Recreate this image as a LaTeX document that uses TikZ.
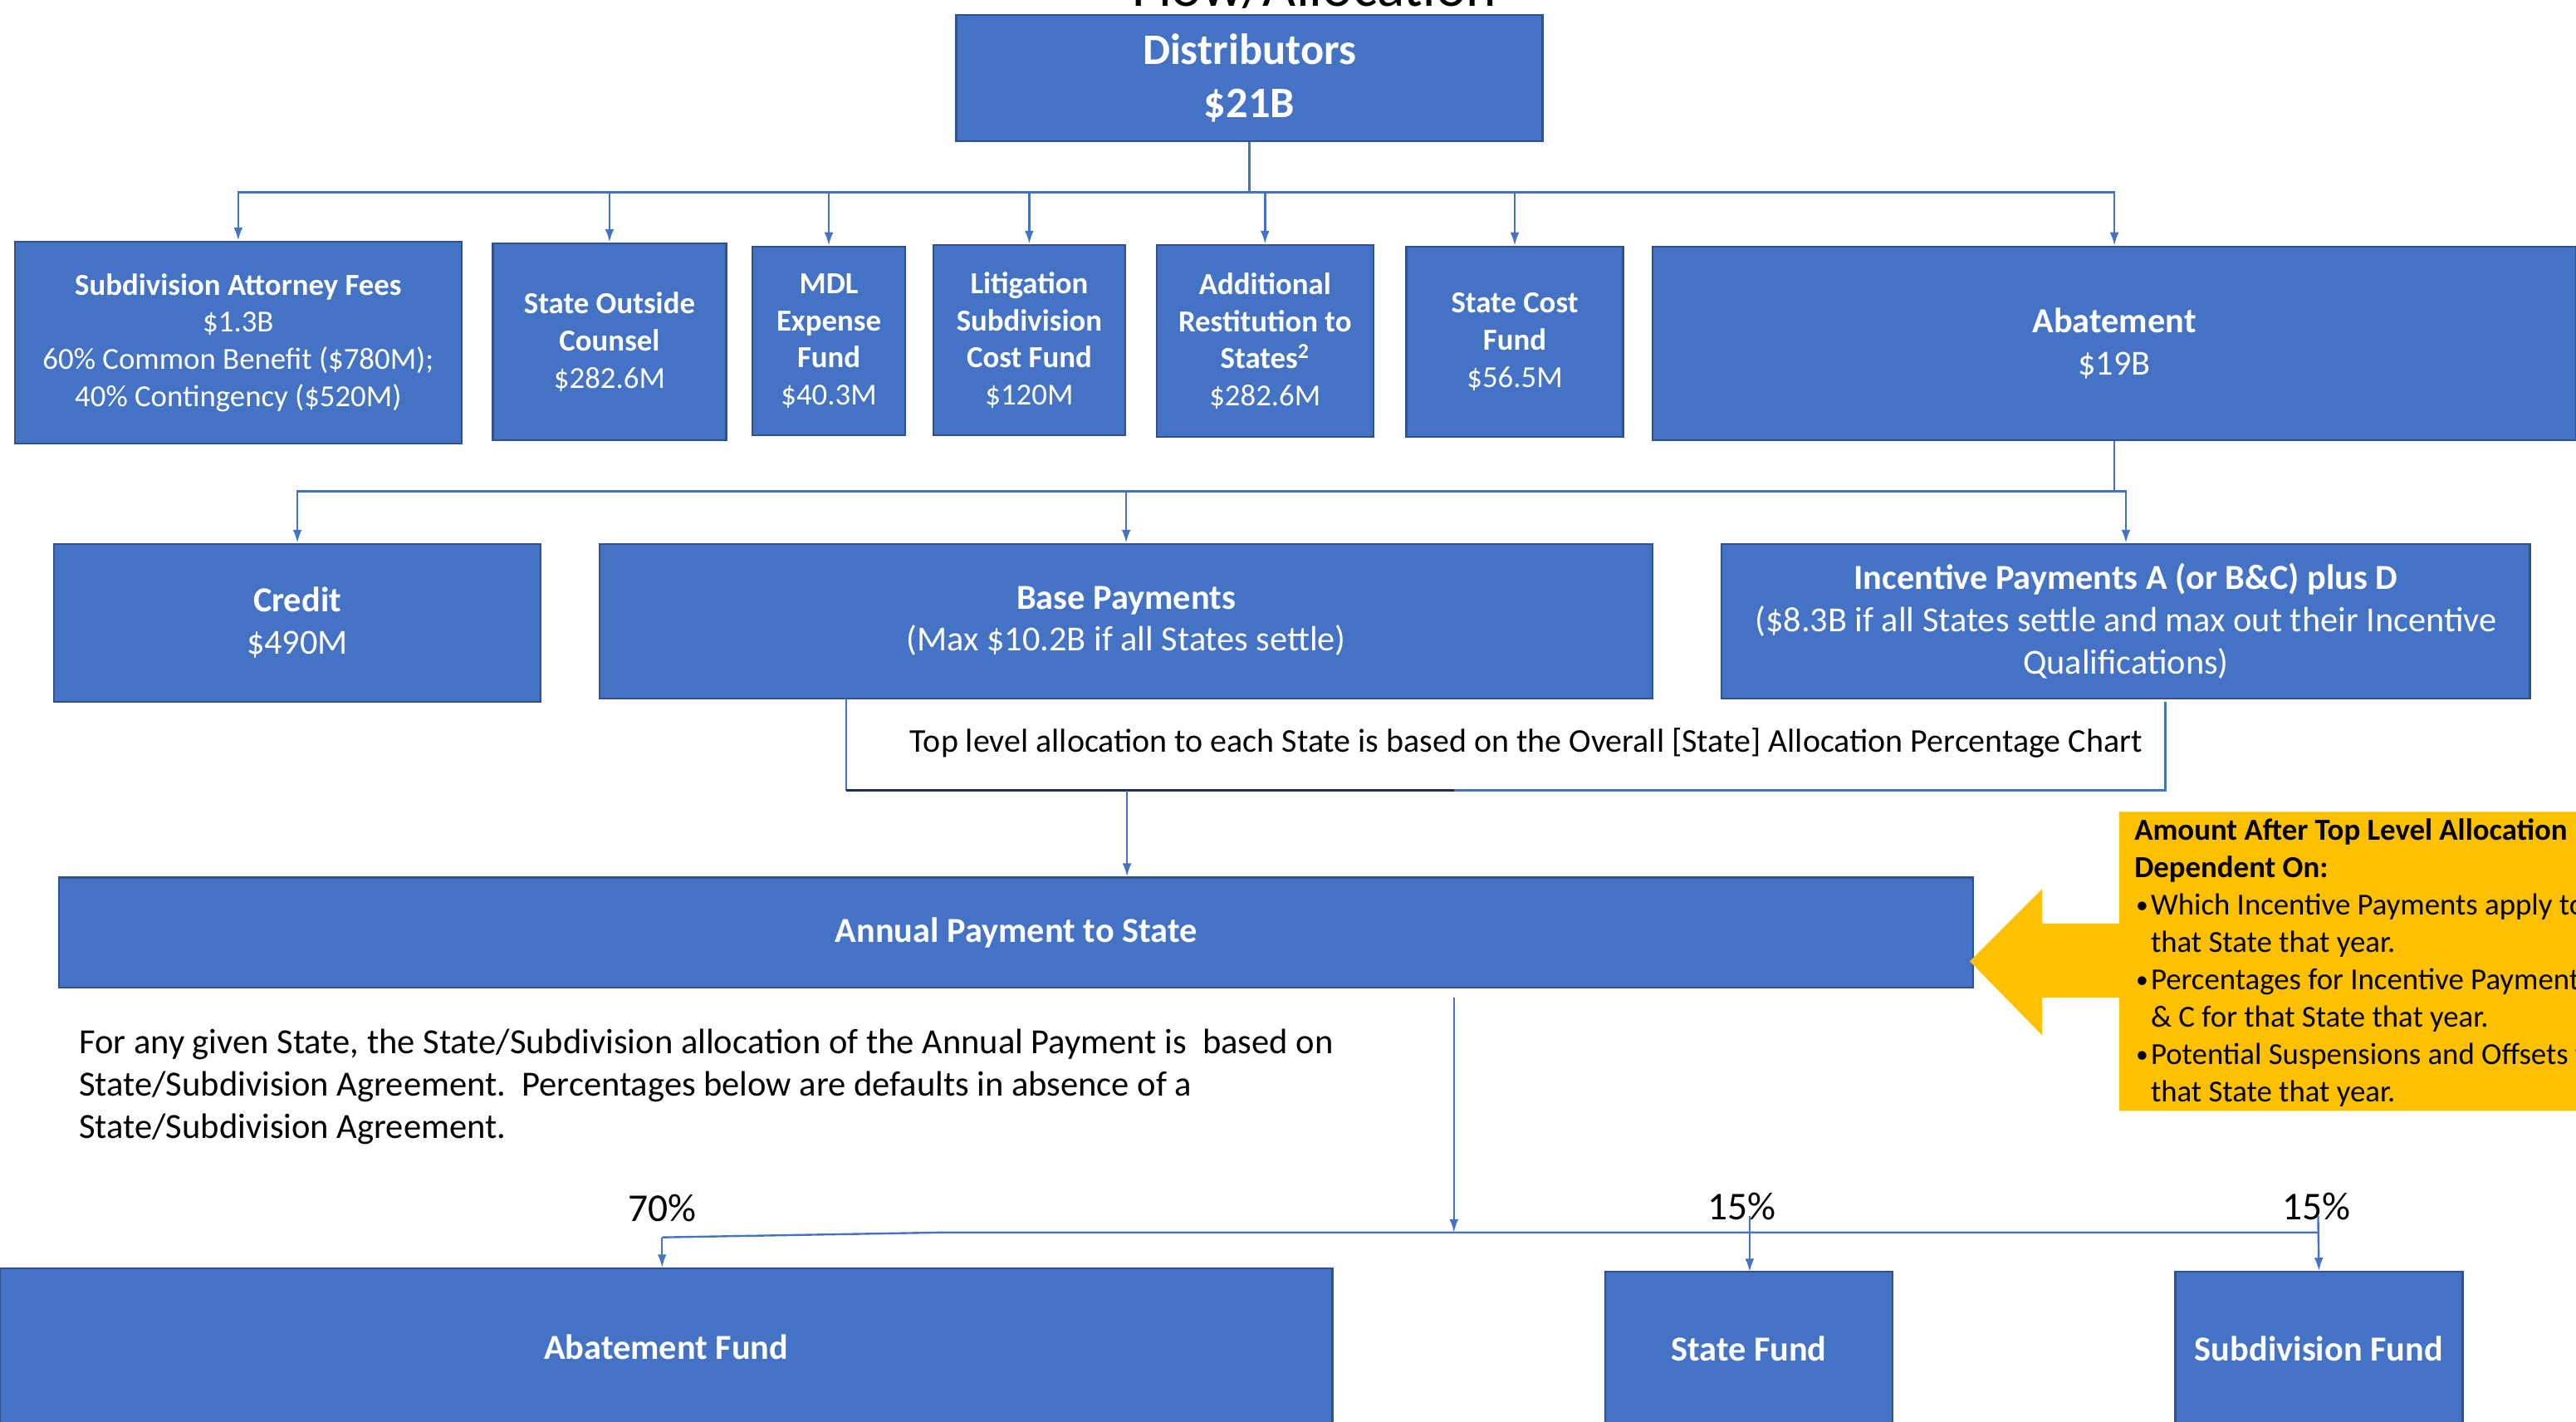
\documentclass[tikz,border=0pt]{standalone}
\usepackage{fontspec}
\setmainfont{Carlito}
\usetikzlibrary{arrows.meta}
\definecolor{boxblue}{RGB}{68,114,196}
\definecolor{boxedge}{RGB}{47,82,143}
\definecolor{callout}{RGB}{255,192,0}
\definecolor{navyline}{RGB}{35,45,70}
\begin{document}
\begin{tikzpicture}[x=1pt,y=-1pt,
  box/.style={fill=boxblue, draw=boxedge, line width=1.2pt, inner sep=0pt, align=center, text=white},
  fs/.style={font=\fontsize{18.6}{22.6}\selectfont},
  fm/.style={font=\fontsize{21.4}{25.6}\selectfont},
  conn/.style={draw=boxblue, line width=1.2pt},
  arr/.style={conn, -{Latex[length=8pt,width=5.5pt]}},
  plain/.style={inner sep=0pt, text=black, font=\fontsize{18.6}{22.6}\selectfont},
  para/.style={inner sep=0pt, text=black, font=\fontsize{21.5}{26}\selectfont},
  pct/.style={inner sep=0pt, text=black, font=\fontsize{24}{28}\selectfont},
]
\useasboundingbox (0,0) rectangle (1568,865);

% title (cut off at top)
\node[inner sep=0pt, anchor=base, font=\fontsize{35}{40}\selectfont] (title) at (800,4) {Flow/Allocation};

% top box
\node[box, minimum width=357pt, minimum height=77pt, font=\fontsize{26.5}{32}\selectfont\bfseries] (dist) at (760.5,47.5) {Distributors\\\$21B};

% row 1
\node[box, fs, minimum width=272pt, minimum height=123pt] (saf) at (145,208.5)
  {\textbf{Subdivision Attorney Fees}\\\$1.3B\\60\% Common Benefit (\$780M);\\40\% Contingency (\$520M)};
\node[box, fs, minimum width=142pt, minimum height=120pt] (soc) at (371,208)
  {\textbf{State Outside}\\\textbf{Counsel}\\\$282.6M};
\node[box, fs, minimum width=93pt, minimum height=115pt] (mdl) at (504.5,207.5)
  {\textbf{MDL}\\\textbf{Expense}\\\textbf{Fund}\\\$40.3M};
\node[box, fs, minimum width=117pt, minimum height=116pt] (lsc) at (626.5,207)
  {\textbf{Litigation}\\\textbf{Subdivision}\\\textbf{Cost Fund}\\\$120M};
\node[box, fs, minimum width=132pt, minimum height=117pt] (ars) at (770,207.5)
  {\textbf{Additional}\\\textbf{Restitution to}\\\textbf{States\textsuperscript{2}}\\\$282.6M};
\node[box, fs, minimum width=132pt, minimum height=116pt] (scf) at (922,208)
  {\textbf{State Cost}\\\textbf{Fund}\\\$56.5M};
\node[box, fm, minimum width=562pt, minimum height=118pt] (abat) at (1287,209)
  {\textbf{Abatement}\\\$19B};

% row 2
\node[box, fm, minimum width=296pt, minimum height=96pt] (credit) at (181,379)
  {\textbf{Credit}\\\$490M};
\node[box, fm, minimum width=641pt, minimum height=94pt] (base) at (685.5,378)
  {\textbf{Base Payments}\\(Max \$10.2B if all States settle)};
\node[box, fm, minimum width=492pt, minimum height=94pt] (inc) at (1294,378)
  {\textbf{Incentive Payments A (or B\&C) plus D}\\(\$8.3B if all States settle and max out their Incentive\\Qualifications)};

% bracket with allocation text
\draw[draw=boxblue, line width=0.9pt] (515,425) -- (515,481);
\draw[draw=boxblue, line width=1.4pt] (885,481) -- (1318,481) -- (1318,427);
\draw[draw=navyline, line width=1.4pt] (515,481) -- (885,481);
\node[inner sep=0pt, text=black, font=\fontsize{20.2}{24}\selectfont] (topalloc) at (929,452) {Top level allocation to each State is based on the Overall [State] Allocation Percentage Chart};

% annual payment
\node[box, fm, minimum width=1165pt, minimum height=67pt] (annual) at (618.5,567.5) {\textbf{Annual Payment to State}};
\coordinate (brk) at (686,481);
\draw[arr] (brk) -- (brk |- annual.north);

% callout
\fill[callout] (1199,585) -- (1243,541) -- (1243,562) -- (1290,562) -- (1290,494) -- (1575,494)
  -- (1575,676) -- (1290,676) -- (1290,607) -- (1243,607) -- (1243,630) -- cycle;
\node[plain, anchor=base west] (c1) at (1299,511.5) {\textbf{Amount After Top Level Allocation}};
\node[plain, anchor=base west] (c2) at (1299,534.2) {\textbf{Dependent On:}};
\node[plain, anchor=base west, font=\fontsize{15}{18}\selectfont] (c3b) at (1300,555.9) {\textbullet};
\node[plain, anchor=base west] (c3) at (1309,556.9) {Which Incentive Payments apply to};
\node[plain, anchor=base west] (c4) at (1309,579.6) {that State that year.};
\node[plain, anchor=base west, font=\fontsize{15}{18}\selectfont] (c5b) at (1300,601.3) {\textbullet};
\node[plain, anchor=base west] (c5) at (1309,602.3) {Percentages for Incentive Payments B};
\node[plain, anchor=base west] (c6) at (1309,625) {\& C for that State that year.};
\node[plain, anchor=base west, font=\fontsize{15}{18}\selectfont] (c7b) at (1300,646.7) {\textbullet};
\node[plain, anchor=base west] (c7) at (1309,647.7) {Potential Suspensions and Offsets for};
\node[plain, anchor=base west] (c8) at (1309,670.4) {that State that year.};

% paragraph
\node[para, anchor=base west] (p1) at (48,641) {For any given State, the State/Subdivision allocation of the Annual Payment is\ \ based on};
\node[para, anchor=base west] (p2) at (48,667) {State/Subdivision Agreement.\ \ Percentages below are defaults in absence of a};
\node[para, anchor=base west] (p3) at (48,693) {State/Subdivision Agreement.};

% bottom boxes
\node[box, fm, minimum width=811pt, minimum height=96pt] (abf) at (405.5,820) {\textbf{Abatement Fund}};
\node[box, fm, minimum width=175pt, minimum height=94pt] (sf) at (1064.5,821) {\textbf{State Fund}};
\node[box, fm, minimum width=175pt, minimum height=94pt] (subf) at (1411.5,821) {\textbf{Subdivision Fund}};

\node[pct] (p70) at (403,735) {70\%};
\node[pct] (p15a) at (1060,734) {15\%};
\node[pct] (p15b) at (1410,734) {15\%};

% connectors top
\coordinate (bus1) at (760.5,117);
\draw[conn] (dist.south) -- (bus1);
\foreach \t in {saf,soc,mdl,lsc,ars,scf,abat}{
  \draw[arr] (bus1) -| (\t.north);
}
% connectors from abatement
\coordinate (bus2) at (1287,299);
\draw[conn] (abat.south) -- (bus2);
\foreach \t in {credit,base,inc}{
  \draw[arr] (bus2) -| (\t.north);
}
% connectors bottom
\coordinate (ap) at (885,607);
\coordinate (bus3) at (885,750);
\draw[arr] (ap) -- (bus3);
\coordinate (l70) at (403,753);
\draw[conn] (l70) -- (575,750) -- (1411,750);
\draw[arr] (l70) -- (abf.north -| l70);
\draw[arr] (1065,740) -- (1065,774);
\draw[arr] (1411,740) -- (subf.north);
\end{tikzpicture}
\end{document}
